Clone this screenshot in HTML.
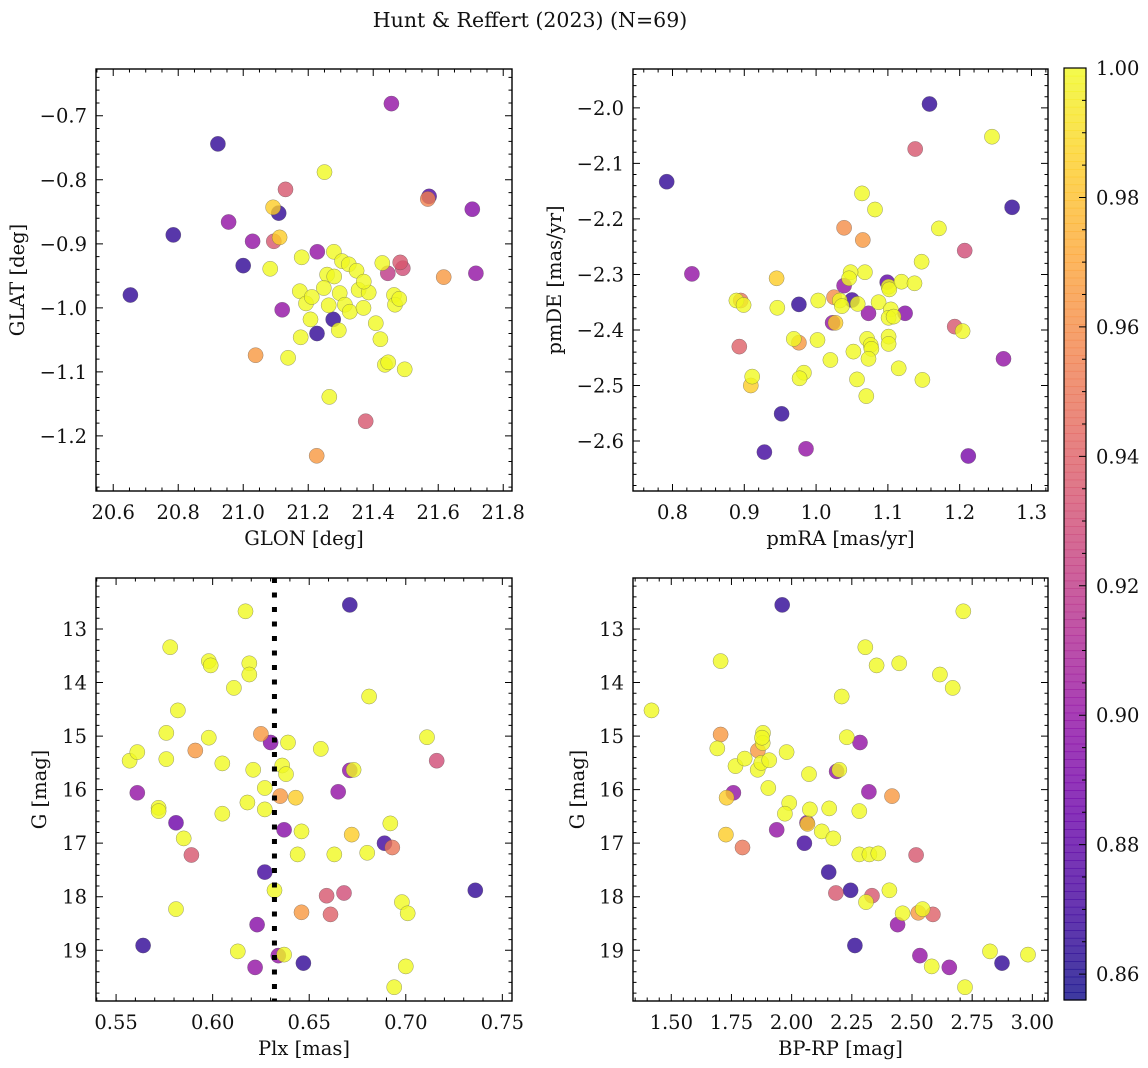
<!DOCTYPE html>
<html><head><meta charset="utf-8">
<style>
html,body{margin:0;padding:0;background:#fff;}
svg{display:block;font-family:"DejaVu Serif","Liberation Serif",serif;}
</style></head>
<body>
<svg id="fig" width="1148" height="1068" viewBox="0 0 1148 1068" xmlns="http://www.w3.org/2000/svg">
<text x="530" y="27" font-size="20.5" text-anchor="middle" fill="#111">Hunt &amp; Reffert (2023) (N=69)</text>
</svg>
<script>
// ---- Panel A: GLON vs GLAT ----
const glon=[20.653,20.785,20.922,20.955,21.0,21.029,21.038,21.083,21.092,21.094,21.109,21.112,21.13,21.12,21.138,21.18,21.174,21.177,21.193,21.211,21.207,21.228,21.227,21.25,21.258,21.265,21.28,21.248,21.263,21.279,21.277,21.294,21.304,21.297,21.313,21.325,21.328,21.349,21.355,21.37,21.377,21.386,21.371,21.408,21.422,21.428,21.445,21.436,21.446,21.456,21.464,21.467,21.48,21.483,21.491,21.497,21.572,21.568,21.617,21.705,21.716,21.226];
const glat=[-0.980,-0.886,-0.744,-0.866,-0.934,-0.896,-1.074,-0.939,-0.843,-0.896,-0.852,-0.89,-0.815,-1.003,-1.078,-0.921,-0.974,-1.046,-0.993,-0.983,-1.018,-0.9125,-1.04,-0.788,-0.948,-1.139,-0.951,-0.969,-0.996,-0.9125,-1.018,-1.035,-0.927,-0.977,-0.995,-0.932,-1.006,-0.942,-0.972,-1.0,-1.177,-0.976,-0.959,-1.024,-1.049,-0.93,-0.946,-1.089,-1.085,-0.681,-0.98,-0.995,-0.986,-0.929,-0.938,-1.096,-0.826,-0.83,-0.952,-0.846,-0.946,-1.231];
const probA=[.865,.865,.865,.9,.865,.9,.965,1,.985,.935,.865,.985,.935,.9,1,1,1,1,1,1,1,.9,.865,1,1,1,1,1,1,1,.865,1,1,1,1,1,1,1,1,1,.935,1,1,1,1,1,.92,1,1,.9,1,1,1,.935,.93,1,.875,.955,.965,.895,.9,.965];
// ---- Panel B: pmRA vs pmDE ----
const pmra=[0.792,1.158,1.245,1.138,1.273,0.827,1.064,1.082,1.039,1.065,1.171,1.207,1.147,0.945,1.068,1.048,1.046,1.039,1.099,1.101,1.102,1.119,1.137,0.889,0.895,0.899,0.946,0.976,1.003,1.025,1.033,1.036,1.05,1.058,1.073,1.087,1.104,1.101,1.108,1.124,1.023,1.027,1.193,1.204,0.893,0.969,0.976,1.002,1.071,1.076,1.077,1.101,1.101,1.02,1.052,1.073,1.115,1.261,0.911,0.909,0.983,0.977,1.057,1.148,1.07,0.952,0.928,0.986,1.212];
const pmde=[-2.133,-1.993,-2.052,-2.074,-2.179,-2.299,-2.154,-2.183,-2.216,-2.238,-2.217,-2.257,-2.277,-2.307,-2.296,-2.296,-2.307,-2.32,-2.314,-2.322,-2.327,-2.313,-2.316,-2.347,-2.347,-2.355,-2.36,-2.354,-2.347,-2.341,-2.347,-2.357,-2.346,-2.353,-2.37,-2.35,-2.363,-2.378,-2.376,-2.37,-2.387,-2.387,-2.394,-2.402,-2.43,-2.416,-2.423,-2.418,-2.416,-2.427,-2.434,-2.412,-2.425,-2.454,-2.439,-2.452,-2.469,-2.452,-2.484,-2.5,-2.477,-2.487,-2.489,-2.49,-2.519,-2.551,-2.62,-2.614,-2.627];
const probB=[.865,.865,1,.935,.865,.9,1,1,.96,.965,1,.93,1,.985,1,1,1,.9,.88,1,1,1,1,1,.95,1,1,.865,1,.96,1,1,.87,1,.9,1,1,1,1,.895,.9,.985,.935,1,.94,1,.965,1,1,1,1,1,1,1,1,1,1,.9,1,.985,1,1,1,1,1,.865,.87,.9,.89];
// ---- Panel C: Plx vs G ----
const plx=[0.557,0.561,0.561,0.564,0.572,0.572,0.578,0.576,0.576,0.581,0.581,0.582,0.585,0.589,0.591,0.598,0.598,0.599,0.605,0.605,0.611,0.613,0.617,0.619,0.619,0.618,0.621,0.622,0.623,0.625,0.627,0.627,0.627,0.630,0.632,0.635,0.636,0.638,0.637,0.634,0.637,0.639,0.643,0.646,0.646,0.647,0.644,0.656,0.659,0.661,0.663,0.665,0.668,0.671,0.671,0.673,0.672,0.681,0.680,0.689,0.693,0.692,0.694,0.698,0.700,0.701,0.711,0.716,0.736];
const gC=[15.46,15.30,16.06,18.91,16.34,16.40,13.34,14.94,15.43,16.62,18.23,14.52,16.91,17.22,15.27,15.03,13.60,13.68,16.45,15.51,14.10,19.02,12.67,13.64,13.85,16.24,15.63,19.32,18.52,14.96,17.54,15.97,16.37,15.12,17.88,16.12,15.55,15.71,16.75,19.10,19.08,15.12,16.15,16.78,18.29,19.24,17.21,15.24,17.98,18.33,17.21,16.04,17.93,12.55,15.64,15.63,16.84,14.26,17.18,17.0,17.08,16.63,19.69,18.10,19.30,18.31,15.02,15.46,17.88];
const probC=[1,1,.9,.865,1,1,1,1,1,.885,1,1,1,.935,.965,1,1,1,1,1,1,1,1,1,1,1,1,.9,.895,.965,.87,1,1,.895,1,.965,1,1,.895,.9,1,1,.985,1,.965,.865,1,1,.935,.94,1,.9,.93,.865,.9,1,.985,1,1,.87,.95,1,1,1,1,1,1,.93,.865];
const plxRef=[0.632];
// ---- Panel D: BP-RP vs G ----
const bprp=[1.418,1.705,1.705,1.691,1.730,1.758,1.727,1.767,1.805,1.796,1.860,1.859,1.881,1.880,1.877,1.874,1.907,1.903,1.938,1.961,1.979,1.990,1.972,2.053,2.064,2.066,2.072,2.076,2.125,2.154,2.156,2.173,2.184,2.187,2.198,2.208,2.229,2.245,2.263,2.281,2.281,2.284,2.306,2.309,2.323,2.321,2.334,2.353,2.360,2.406,2.417,2.440,2.447,2.461,2.517,2.526,2.544,2.533,2.582,2.587,2.616,2.655,2.669,2.713,2.720,2.824,2.874,2.982];
const gD=[14.52,13.60,14.97,15.23,16.15,16.06,16.84,15.56,15.42,17.08,15.27,15.63,14.94,15.13,15.03,15.50,15.45,15.97,16.75,12.55,15.30,16.25,16.45,17.0,16.62,16.64,15.71,16.37,16.78,17.54,16.35,16.91,17.93,15.66,15.63,14.26,15.02,17.88,18.91,17.21,16.40,15.12,13.34,18.10,17.21,16.04,17.98,13.68,17.19,17.88,16.12,18.52,13.64,18.31,17.22,18.30,18.23,19.10,19.30,18.33,13.85,19.32,14.10,12.67,19.69,19.02,19.24,19.08];
const probD=[1,1,.965,1,.985,.9,.985,1,1,.95,.965,1,1,1,1,1,1,1,.9,.865,1,1,1,.87,.895,.985,1,1,1,.865,1,1,.935,.9,1,1,1,.865,.865,1,1,.9,1,1,1,.9,.935,1,1,1,.965,.9,1,1,.935,.965,1,.9,1,.94,1,.9,1,1,1,1,.865,1];
// ---- ticks ----
const ticksA_x=[20.6,20.8,21.0,21.2,21.4,21.6,21.8];
const ticksA_y=[-0.7,-0.8,-0.9,-1.0,-1.1,-1.2];
const ticksB_x=[0.8,0.9,1.0,1.1,1.2,1.3];
const ticksB_y=[-2.0,-2.1,-2.2,-2.3,-2.4,-2.5,-2.6];
const ticksC_x=[0.55,0.60,0.65,0.70,0.75];
const ticksG=[13,14,15,16,17,18,19];
const ticksD_x=[1.50,1.75,2.00,2.25,2.50,2.75,3.00];
const cbTicks=[0.86,0.88,0.90,0.92,0.94,0.96,0.98,1.00];
const cbMin=0.856, cbMax=1.0;

const FS=19.5;
const NS="http://www.w3.org/2000/svg";
const svg=document.getElementById('fig');
function mk(tag,attrs,parent){const e=document.createElementNS(NS,tag);for(const k in attrs)e.setAttribute(k,attrs[k]);(parent||svg).appendChild(e);return e;}
const stops=[[0,13,8,135],[0.1,65,4,157],[0.2,106,0,168],[0.3,143,13,164],[0.4,177,42,144],[0.5,204,71,120],[0.6,225,100,98],[0.7,242,132,75],[0.8,252,166,54],[0.9,252,206,37],[1,240,249,33]];
function plasma(t){t=Math.max(0,Math.min(1,t));for(let i=1;i<stops.length;i++){if(t<=stops[i][0]){const a=stops[i-1],b=stops[i],f=(t-a[0])/(b[0]-a[0]);return `rgb(${Math.round(a[1]+f*(b[1]-a[1]))},${Math.round(a[2]+f*(b[2]-a[2]))},${Math.round(a[3]+f*(b[3]-a[3]))})`;}}return 'rgb(240,249,33)';}
function pcol(p){return plasma((p-cbMin)/(cbMax-cbMin));}
function fmt(v,d){const s=Math.abs(v).toFixed(d);return (v<0?'\u2212':'')+s;}

function panel(cfg){
  const {name,L,R,T,B,xmin,xmax,ymin,ymax,invertY,xs,ys,ps,xt,yt,xd,yd,xminor,yminor,xlabel,ylabel,ylabX}=cfg;
  const g=mk('g',{});  
  const sx=v=>L+(v-xmin)/(xmax-xmin)*(R-L);
  const sy=v=>invertY?T+(v-ymin)/(ymax-ymin)*(B-T):B-(v-ymin)/(ymax-ymin)*(B-T);
  cfg.sx=sx;cfg.sy=sy;cfg.g=g;
  const idx=xs.map((_,i)=>i).sort((a,b)=>ps[a]-ps[b]);
  const pg=mk('g',{},g);  
  idx.forEach(i=>{
    const c=mk('circle',{cx:sx(xs[i]).toFixed(1),cy:sy(ys[i]).toFixed(1),r:7.6,fill:pcol(ps[i]),'fill-opacity':0.8,stroke:'#555','stroke-width':0.5,'stroke-opacity':0.6},pg);
    
    
  });
  if(cfg.extra)cfg.extra(cfg);
  const fr=mk('rect',{x:L,y:T,width:R-L,height:B-T,fill:'none',stroke:'#000','stroke-width':1.4},g);
   
  let d='';
  const eps=1e-9;
  for(let k=Math.ceil((Math.min(xmin,xmax))/xminor-eps);k*xminor<=Math.max(xmin,xmax)+eps;k++){const v=k*xminor,x=sx(v);if(x<L||x>R)continue;d+=`M${x},${B}v-3.5M${x},${T}v3.5`;}
  for(let k=Math.ceil(Math.min(ymin,ymax)/yminor-eps);k*yminor<=Math.max(ymin,ymax)+eps;k++){const v=k*yminor,y=sy(v);if(y<T||y>B)continue;d+=`M${L},${y}h3.5M${R},${y}h-3.5`;}
  xt.forEach(v=>{const x=sx(v);d+=`M${x},${B}v-7M${x},${T}v7`;});
  yt.forEach(v=>{const y=sy(v);d+=`M${L},${y}h7M${R},${y}h-7`;});
  const tk=mk('path',{d:d,stroke:'#000','stroke-width':1,fill:'none'},g);
   
  xt.forEach(v=>{const t=mk('text',{x:sx(v),y:B+28,'font-size':FS,'text-anchor':'middle',fill:'#111'},g);t.textContent=fmt(v,xd);
     });
  yt.forEach(v=>{const t=mk('text',{x:L-9,y:sy(v)+7,'font-size':FS,'text-anchor':'end',fill:'#111'},g);t.textContent=fmt(v,yd);
     });
  const xl=mk('text',{x:(L+R)/2,y:B+54,'font-size':FS,'text-anchor':'middle',fill:'#111'},g);xl.textContent=xlabel;
   
  const yx=ylabX, yy=(T+B)/2;
  const yl=mk('text',{x:yx,y:yy,'font-size':FS,'text-anchor':'middle',fill:'#111',transform:`rotate(-90 ${yx} ${yy})`},g);yl.textContent=ylabel;
   
}

panel({name:'glon-glat-panel',L:96,R:512,T:69,B:491,xmin:20.547,xmax:21.827,ymin:-1.286,ymax:-0.627,invertY:false,xs:glon,ys:glat,ps:probA,xt:ticksA_x,yt:ticksA_y,xd:1,yd:1,xminor:0.05,yminor:0.02,xlabel:'GLON [deg]',ylabel:'GLAT [deg]',ylabX:24});
panel({name:'pm-panel',L:633,R:1048,T:69,B:491,xmin:0.745,xmax:1.323,ymin:-2.690,ymax:-1.930,invertY:false,xs:pmra,ys:pmde,ps:probB,xt:ticksB_x,yt:ticksB_y,xd:1,yd:1,xminor:0.02,yminor:0.02,xlabel:'pmRA [mas/yr]',ylabel:'pmDE [mas/yr]',ylabX:561});
panel({name:'plx-g-panel',L:96,R:512,T:578,B:1001,xmin:0.5396,xmax:0.755,ymin:12.048,ymax:19.947,invertY:true,xs:plx,ys:gC,ps:probC,xt:ticksC_x,yt:ticksG,xd:2,yd:0,xminor:0.01,yminor:0.2,xlabel:'Plx [mas]',ylabel:'G [mag]',ylabX:46,
  extra:(c)=>{const x=c.sx(plxRef[0]);const l=mk('line',{x1:x,x2:x,y1:c.T,y2:c.B,stroke:'#000','stroke-width':5,'stroke-dasharray':'5,9.5'},c.g);
     }});
panel({name:'cmd-panel',L:633,R:1048,T:578,B:1001,xmin:1.341,xmax:3.065,ymin:12.048,ymax:19.947,invertY:true,xs:bprp,ys:gD,ps:probD,xt:ticksD_x,yt:ticksG,xd:2,yd:0,xminor:0.05,yminor:0.2,xlabel:'BP-RP [mag]',ylabel:'G [mag]',ylabX:584});

(function(){
  const L=1064,R=1086,T=68,B=1000;
  const g=mk('g',{});  
  const n=120;
  for(let i=0;i<n;i++){const y0=T+(B-T)*i/n;const t=1-(i+0.5)/n;
    mk('rect',{x:L,y:y0.toFixed(2),width:R-L,height:((B-T)/n+0.6).toFixed(2),fill:plasma(t),'fill-opacity':0.8},g);}
  mk('rect',{x:L,y:T,width:R-L,height:B-T,fill:'none',stroke:'#000','stroke-width':1.2},g);
  const sy=v=>B-(v-cbMin)/(cbMax-cbMin)*(B-T);
  let d='';
  for(let k=Math.ceil(cbMin/0.005-1e-9);k*0.005<=cbMax+1e-9;k++){d+=`M${R},${sy(k*0.005)}h-4`;}
  cbTicks.forEach(v=>{d+=`M${R},${sy(v)}h-7`;});
  mk('path',{d:d,stroke:'#000','stroke-width':1},g);
  cbTicks.forEach(v=>{const t=mk('text',{x:R+10,y:sy(v)+7,'font-size':FS,fill:'#111'},g);t.textContent=v.toFixed(2);
     });
})();
</script>
</body></html>
